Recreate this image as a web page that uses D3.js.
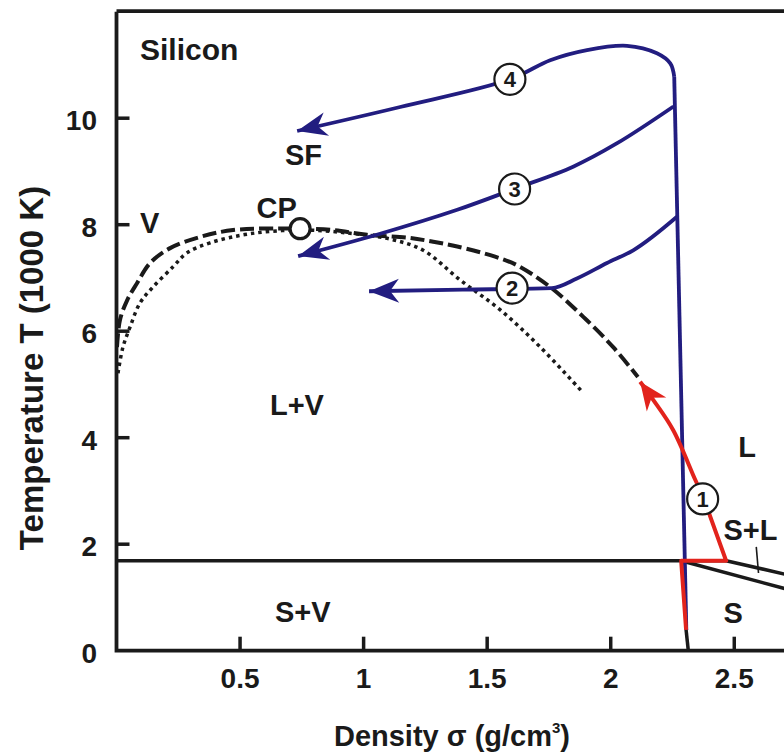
<!DOCTYPE html>
<html>
<head>
<meta charset="utf-8">
<script src="https://cdn.jsdelivr.net/npm/d3@7/dist/d3.min.js"></script>
<style>
  html, body { margin: 0; padding: 0; background: #fff; }
  svg { display: block; }
  text { font-family: "Liberation Sans", Arial, Helvetica, sans-serif; font-weight: bold; fill: #1a1a1a; }
</style>
</head>
<body>
<svg id="chart" width="784" height="754"></svg>
<script>
// ---- data (density g/cm3, temperature 1000 K) ----
const densityTicks = [0.5, 1, 1.5, 2, 2.5];
const tempTicks = [0, 2, 4, 6, 8, 10];

// binodal (dashed)
const binodal = [
  [0.002, 5.70], [0.014, 6.21], [0.043, 6.58], [0.083, 6.90], [0.136, 7.28],
  [0.217, 7.56], [0.338, 7.77], [0.472, 7.90], [0.69, 7.93], [0.743, 7.925],
  [0.877, 7.90], [1.014, 7.81], [1.188, 7.75], [1.282, 7.68], [1.379, 7.59],
  [1.532, 7.40], [1.62, 7.24], [1.755, 6.83], [1.889, 6.27], [2.01, 5.70], [2.11, 5.14]
];

// spinodal (dotted)
const spinodal = [
  [0.006, 5.21], [0.026, 5.70], [0.055, 6.08], [0.095, 6.53], [0.148, 6.83],
  [0.229, 7.21], [0.285, 7.47], [0.379, 7.66], [0.540, 7.83], [0.743, 7.90],
  [0.945, 7.84], [1.107, 7.73], [1.241, 7.52], [1.391, 6.96], [1.553, 6.40],
  [1.715, 5.70], [1.885, 4.86]
];

// expansion paths (first point = arrow tip)
const path4 = [
  [0.731, 9.76], [1.148, 10.21], [1.592, 10.73], [1.755, 11.09], [1.904, 11.28],
  [2.066, 11.36], [2.187, 11.22], [2.241, 11.03], [2.257, 10.78]
];
const path3 = [
  [0.735, 7.41], [1.067, 7.83], [1.379, 8.28], [1.609, 8.67], [1.848, 9.09],
  [2.026, 9.53], [2.254, 10.22]
];
const path2 = [
  [1.022, 6.75], [1.40, 6.78], [1.762, 6.81], [1.863, 6.99], [1.985, 7.28],
  [2.091, 7.52], [2.268, 8.15]
];
const isochore = [[2.257, 10.78], [2.306, 0.39]];

// red path 1 (first point = arrow tip)
const path1Curve = [
  [2.119, 5.05], [2.172, 4.71], [2.253, 4.14], [2.342, 3.21], [2.374, 2.89]
];
const path1Lines = [
  [2.374, 2.89], [2.467, 1.69], [2.285, 1.69], [2.305, 0.39]
];

// phase boundaries
const tripleLine = [[0, 1.69], [2.467, 1.69]];
const liquidus = [[2.467, 1.69], [2.75, 1.39]];
const solidus = [[2.285, 1.69], [2.75, 1.11]];
const solidStub = [[2.305, 0.39], [2.314, 0]];
const slLeader = [[2.589, 1.95], [2.598, 1.46]];

const criticalPoint = [0.743, 7.925];

const regionLabels = [
  { text: 'Silicon', x: 0.095, t: 11.09 },
  { text: 'SF', x: 0.682, t: 9.12 },
  { text: 'CP', x: 0.567, t: 8.12 },
  { text: 'V', x: 0.095, t: 7.84 },
  { text: 'L+V', x: 0.621, t: 4.43 },
  { text: 'S+V', x: 0.641, t: 0.545 },
  { text: 'S', x: 2.456, t: 0.515 },
  { text: 'S+L', x: 2.456, t: 2.08 },
  { text: 'L', x: 2.516, t: 3.64 }
];

const pathMarkers = [
  { n: '1', x: 2.372, t: 2.85 },
  { n: '2', x: 1.601, t: 6.81 },
  { n: '3', x: 1.611, t: 8.67 },
  { n: '4', x: 1.592, t: 10.73 }
];

// ---- setup ----
const blue = '#221d80';
const red = '#e2231c';
const ink = '#1a1a1a';

const svg = d3.select('#chart');
const plotLeft = 116.5, plotRight = 783.7, plotBottom = 650.7, plotTop = 11.7;

const x = d3.scaleLinear().domain([0, 2.7]).range([plotLeft, plotRight]);
const y = d3.scaleLinear().domain([0, 12]).range([plotBottom, plotTop]);

svg.append('defs').append('clipPath').attr('id', 'plotClip')
  .append('rect')
  .attr('x', plotLeft).attr('y', plotTop)
  .attr('width', plotRight - plotLeft + 10).attr('height', plotBottom - plotTop);

const plot = svg.append('g').attr('clip-path', 'url(#plotClip)');

const line = (curve) => d3.line().x(d => x(d[0])).y(d => y(d[1])).curve(curve);

function drawLine(data, color, width, curve, dash) {
  plot.append('path')
    .datum(data)
    .attr('d', line(curve || d3.curveLinear))
    .attr('fill', 'none')
    .attr('stroke', color)
    .attr('stroke-width', width)
    .attr('stroke-linejoin', 'round')
    .attr('stroke-dasharray', dash || null);
}

function arrowHead(data, color, len, half) {
  const tx = x(data[0][0]), ty = y(data[0][1]);
  const bx = x(data[1][0]), by = y(data[1][1]);
  const d = Math.hypot(bx - tx, by - ty);
  const ux = (bx - tx) / d, uy = (by - ty) / d;
  const nx = -uy, ny = ux;
  const pts = [
    [tx, ty],
    [tx + ux * len + nx * half, ty + uy * len + ny * half],
    [tx + ux * len * 0.7, ty + uy * len * 0.7],
    [tx + ux * len - nx * half, ty + uy * len - ny * half]
  ];
  svg.append('path')
    .attr('d', 'M' + pts.map(p => p.join(',')).join('L') + 'Z')
    .attr('fill', color);
}

// ---- phase boundaries ----
drawLine(tripleLine, ink, 3.5);
drawLine(liquidus, ink, 3.5);
drawLine(solidus, ink, 3.5);
drawLine(solidStub, ink, 3.5);
drawLine(slLeader, ink, 1.6);

drawLine(spinodal, ink, 3.5, d3.curveCatmullRom, '3.5,4');
drawLine(binodal, ink, 4, d3.curveCatmullRom, '14,5');

// ---- blue paths ----
drawLine(isochore, blue, 3.8);
drawLine(path4, blue, 3.8, d3.curveCatmullRom);
drawLine(path3, blue, 3.8, d3.curveCatmullRom);
drawLine(path2, blue, 3.8, d3.curveMonotoneX);
arrowHead(path4, blue, 30, 12);
arrowHead(path3, blue, 30, 12);
arrowHead(path2, blue, 30, 12);

// ---- red path ----
drawLine(path1Curve, red, 4, d3.curveCatmullRom);
drawLine(path1Lines, red, 4);
arrowHead(path1Curve, red, 28, 12);

// ---- axes ----
const axisG = svg.append('g');
axisG.append('path')
  .attr('d', `M${plotLeft},${plotTop}V${plotBottom}H${plotRight + 2}`)
  .attr('fill', 'none').attr('stroke', ink).attr('stroke-width', 3.8);
axisG.append('line')
  .attr('x1', plotLeft).attr('x2', plotRight + 2)
  .attr('y1', plotTop - 0.5).attr('y2', plotTop - 0.5)
  .attr('stroke', ink).attr('stroke-width', 3.8);

axisG.selectAll('.ytick').data(tempTicks.filter(t => t > 0)).enter()
  .append('line')
  .attr('x1', plotLeft).attr('x2', plotLeft + 13)
  .attr('y1', d => y(d)).attr('y2', d => y(d))
  .attr('stroke', ink).attr('stroke-width', 3.5);
axisG.selectAll('.ylab').data(tempTicks).enter()
  .append('text')
  .attr('x', 97).attr('y', d => y(d) + 2)
  .attr('dy', '0.35em')
  .attr('text-anchor', 'end')
  .style('font-size', '28px')
  .text(d => d);

axisG.selectAll('.xtick').data(densityTicks).enter()
  .append('line')
  .attr('x1', d => x(d)).attr('x2', d => x(d))
  .attr('y1', plotBottom).attr('y2', plotBottom - 14)
  .attr('stroke', ink).attr('stroke-width', 3.5);
axisG.selectAll('.xlab').data(densityTicks).enter()
  .append('text')
  .attr('x', d => x(d)).attr('y', 688)
  .attr('text-anchor', 'middle')
  .style('font-size', '28px')
  .text(d => d);

// axis titles
svg.append('text')
  .attr('transform', 'translate(43,368) rotate(-90)')
  .attr('text-anchor', 'middle')
  .style('font-size', '33px')
  .text('Temperature T (1000 K)');

const xt = svg.append('text')
  .attr('x', 452).attr('y', 746)
  .attr('text-anchor', 'middle')
  .style('font-size', '29px');
xt.append('tspan').text('Density σ (g/cm');
xt.append('tspan').attr('dy', -13).style('font-size', '15px').text('3');
xt.append('tspan').attr('dy', 13).text(')');

// ---- labels ----
svg.selectAll('.region').data(regionLabels).enter()
  .append('text')
  .attr('x', d => x(d.x)).attr('y', d => y(d.t))
  .style('font-size', d => d.text === 'Silicon' ? '30px' : '29px')
  .text(d => d.text);

// critical point
svg.append('circle')
  .attr('cx', x(criticalPoint[0])).attr('cy', y(criticalPoint[1]))
  .attr('r', 10)
  .attr('fill', '#fff').attr('stroke', ink).attr('stroke-width', 3.2);

// numbered path markers
const mk = svg.selectAll('.marker').data(pathMarkers).enter()
  .append('g')
  .attr('transform', d => `translate(${x(d.x)},${y(d.t)})`);
mk.append('circle')
  .attr('r', 15.5)
  .attr('fill', '#fff').attr('stroke', ink).attr('stroke-width', 2.2);
mk.append('text')
  .attr('text-anchor', 'middle')
  .attr('dy', '0.36em')
  .style('font-size', '22px')
  .text(d => d.n);
</script>
</body>
</html>
